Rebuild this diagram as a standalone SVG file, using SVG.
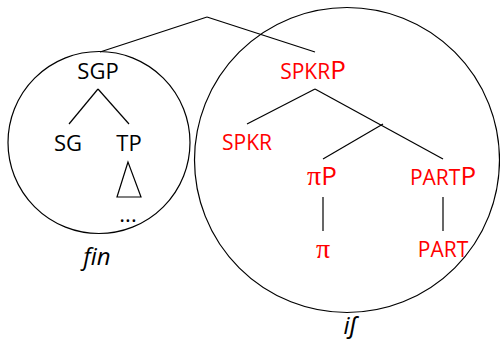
<svg xmlns="http://www.w3.org/2000/svg" width="500" height="349" viewBox="0 0 500 349">
<style>
text{font-family:"Open Sans","Liberation Sans",Arial,sans-serif;text-anchor:middle}
.b{fill:#000;font-size:22px}
.r{fill:#ff0000;font-size:21px}
.big{font-size:26px}
.pi{font-family:"Liberation Serif","DejaVu Serif",serif;font-size:28px}
.it{font-style:italic;font-size:24px;fill:#000}
line,polygon,circle{stroke:#000;stroke-width:1.2;fill:none}
</style>
<rect width="500" height="349" fill="#fff"/>
<g id="connectors">
<line x1="207" y1="17" x2="100" y2="52"/>
<line x1="207" y1="17" x2="315" y2="52"/>
<line x1="98" y1="89" x2="69" y2="124"/>
<line x1="98" y1="89" x2="129" y2="124"/>
<line x1="315" y1="89" x2="247" y2="124"/>
<line x1="315" y1="89" x2="443" y2="159"/>
<line x1="383" y1="124" x2="323" y2="159"/>
<line x1="323" y1="197" x2="323" y2="231"/>
<line x1="443" y1="197" x2="443" y2="231"/>
</g>
<g id="fin-circle"><circle cx="99" cy="142.5" r="91"/><text class="it" x="97" y="265">fin</text></g>
<g id="if-circle"><circle cx="347" cy="160" r="152.5"/><text class="it" x="350" y="334">iʃ</text></g>
<g id="SGP"><text class="b" x="98" y="79">SGP</text></g>
<g id="SG"><text class="b" x="68" y="151">SG</text></g>
<g id="TP"><text class="b" x="129" y="151">TP</text></g>
<g id="TP-tri"><polygon points="128,162 117,197 141,197"/></g>
<g id="dots"><text class="b" x="128" y="222">...</text></g>
<g id="SPKRP"><text class="r" x="313" y="79">SPKR<tspan class="big">P</tspan></text></g>
<g id="SPKR"><text class="r" x="247" y="150">SPKR</text></g>
<g id="piP"><text class="r" x="322" y="185"><tspan class="pi">π</tspan><tspan class="big">P</tspan></text></g>
<g id="PARTP"><text class="r" x="443" y="185">PART<tspan class="big">P</tspan></text></g>
<g id="pi"><text class="r pi" x="323" y="258">π</text></g>
<g id="PART"><text class="r" x="443" y="257">PART</text></g>
</svg>
